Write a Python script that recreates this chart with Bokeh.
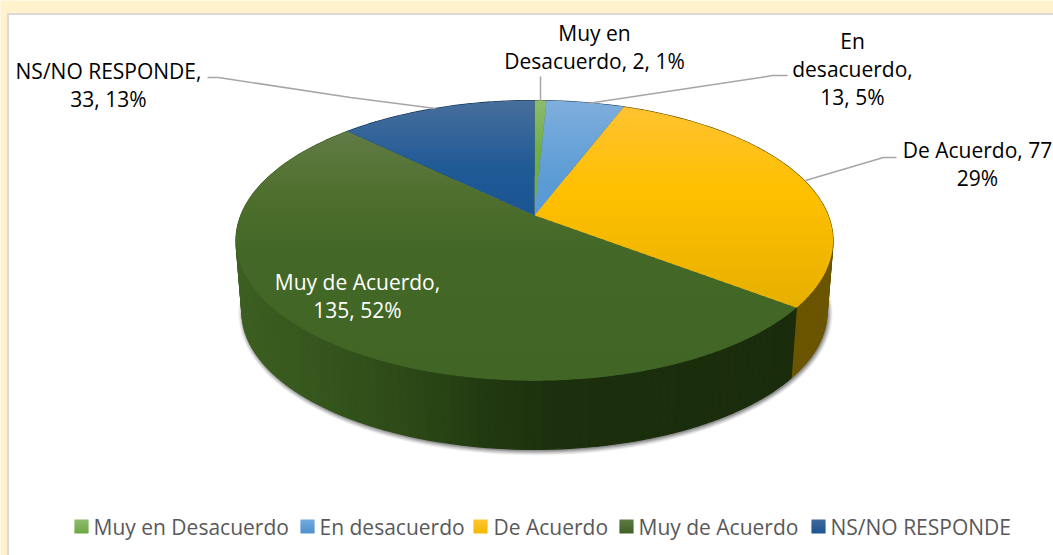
import math
from bokeh.plotting import figure
from bokeh.embed import file_html
from bokeh.resources import INLINE
from bokeh.core.properties import value

# ---- data ----
categories = ["Muy en Desacuerdo", "En desacuerdo", "De Acuerdo", "Muy de Acuerdo", "NS/NO RESPONDE"]
counts = [2, 13, 77, 135, 33]
percents = [1, 5, 29, 52, 13]

# ---- text of the data labels (line breaks as in the picture) ----
label_lines = [
    "Muy en\nDesacuerdo, 2, 1%",
    "En\ndesacuerdo,\n13, 5%",
    "De Acuerdo, 77\n29%",
    "Muy de Acuerdo,\n135, 52%",
    "NS/NO RESPONDE,\n33, 13%",
]

# ---- styles ----
CREAM = "#FFF2CC"
FONT = "Open Sans"
top_stops = [
    [(100, "#8DBB6E"), (150, "#70AD47")],
    [(100, "#7FAEDD"), (180, "#5B9BD5")],
    [(105, "#FFC232"), (190, "#FFC000"), (310, "#E6AF00")],
    [(125, "#637D49"), (190, "#50702F"), (250, "#436827"), (380, "#416524")],
    [(100, "#486E9C"), (170, "#1F5A96"), (215, "#1C5591")],
]
wall_stops = [
    [(500, "#3D5F27"), (560, "#3D5F27")],
    [(500, "#2E4F6B"), (640, "#2E4F6B")],
    [(780, "#6B5500"), (835, "#6B5500")],
    [(236, "#3D5F22"), (350, "#32521B"), (430, "#2A4515"), (490, "#213810"), (560, "#1C300D"), (800, "#1A2C0C")],
    [(300, "#0E2B48"), (540, "#0E2B48")],
]
legend_stops = [
    [(519, "#8DBB6E"), (533, "#6CA843")],
    [(519, "#74A9DC"), (533, "#4E90CE")],
    [(519, "#FFC632"), (533, "#F5B800")],
    [(519, "#5F7A45"), (533, "#3F6124")],
    [(519, "#41699A"), (533, "#1C5591")],
]

# ---- layout (pixels of the window) ----
APEX_X, APEX_Y = 534.0, 215.0
SX, SY, E = 293.7, 135.6, 0.179
DEPTH, BOTTOM_SCALE = 72.0, 0.98
legend_box_x = [74, 300, 473, 619, 811]
legend_text_x = [93, 319, 493, 638, 830]
label_x = [594, 852, 977, 357, 108]
label_y = [46, 68, 163, 295, 84]
label_color = ["#000000", "#000000", "#000000", "#FFFFFF", "#000000"]
leaders = [
    ([540, 540], [76, 101]),
    ([587, 760, 772, 787], [103, 77, 75, 75]),
    ([805, 883, 896], [180, 157, 157]),
    ([207, 218, 350, 435], [77, 77, 97, 108]),
]


def hex2rgb(c):
    return tuple(int(c[i:i + 2], 16) for i in (1, 3, 5))


def ramp(stops, t):
    if t <= stops[0][0]:
        return stops[0][1]
    for (a, ca), (b, cb) in zip(stops, stops[1:]):
        if t <= b:
            f = (t - a) / (b - a)
            ra, rb = hex2rgb(ca), hex2rgb(cb)
            return "#%02X%02X%02X" % tuple(round(x + (y - x) * f) for x, y in zip(ra, rb))
    return stops[-1][1]


def project(phi, dy=0.0, k=1.0):
    d = 1 + E * math.cos(phi)
    return (APEX_X + k * SX * math.sin(phi) / d,
            APEX_Y + dy - k * SY * math.cos(phi) / d)


def clip_half(poly, y, keep_below):
    out = []
    inside = (lambda q: q[1] >= y) if keep_below else (lambda q: q[1] <= y)
    for a, b in zip(poly, poly[1:] + poly[:1]):
        ia, ib = inside(a), inside(b)
        if ia:
            out.append(a)
        if ia != ib:
            f = (y - a[1]) / (b[1] - a[1])
            out.append((a[0] + (b[0] - a[0]) * f, y))
    return out


def bands(poly, stops, step=3):
    """Cut a polygon into horizontal bands so that it shows a vertical gradient."""
    xs, ys, cs = [], [], []
    y0 = min(q[1] for q in poly)
    y1 = max(q[1] for q in poly)
    y = y0
    while y < y1:
        part = clip_half(clip_half(poly, y, True), y + step + 0.8, False)
        if len(part) >= 3:
            xs.append([q[0] for q in part])
            ys.append([q[1] for q in part])
            cs.append(ramp(stops, y + step / 2))
        y += step
    return xs, ys, cs


p = figure(width=1053, height=555, x_range=(0, 1053), y_range=(555, 0),
           output_backend="svg", toolbar_location=None, min_border=0,
           x_axis_location=None, y_axis_location=None, outline_line_color=None)
p.grid.visible = False
p.background_fill_color = CREAM
p.border_fill_color = CREAM

# white chart area
p.quad(left=[7.5], right=[1070], top=[13.5], bottom=[570], fill_color="#FFFFFF",
       line_color="#D9D9D9", line_width=2)

# slice angles from the counts
total = sum(counts)
edges = [0.0]
for c in counts:
    edges.append(edges[-1] + 2 * math.pi * c / total)

# soft shadow beneath the pie
full = [i * math.pi / 180 for i in range(0, 360, 2)]
for grow, alpha in [(4.5, 0.07), (3.6, 0.09), (2.7, 0.12), (1.8, 0.15), (0.9, 0.18), (0.0, 0.22)]:
    pts = [project(a, DEPTH + 1.5, BOTTOM_SCALE) for a in full]
    cx = APEX_X + 1.0
    cy = APEX_Y + DEPTH + 25
    sxs = [cx + (q[0] - APEX_X) * (1 + grow / 290) for q in pts]
    sys = [cy + (q[1] - cy) * (1 + grow / 137) for q in pts]
    p.patch(sxs, sys, fill_color="#404040", fill_alpha=alpha, line_color=None)

# side wall of every slice
wx, wy, wc = [], [], []
for i in range(len(counts)):
    n = max(2, int((edges[i + 1] - edges[i]) / math.radians(1.5)))
    for j in range(n):
        a = edges[i] + (edges[i + 1] - edges[i]) * j / n
        b = edges[i] + (edges[i + 1] - edges[i]) * (j + 1) / n
        t0, t1 = project(a), project(b)
        b0, b1 = project(a, DEPTH, BOTTOM_SCALE), project(b, DEPTH, BOTTOM_SCALE)
        wx.append([t0[0], t1[0], b1[0], b0[0]])
        wy.append([t0[1], t1[1], b1[1], b0[1]])
        wc.append(ramp(wall_stops[i], (t0[0] + t1[0]) / 2))
p.patches(wx, wy, fill_color=wc, line_color=wc, line_width=1.2)

# top face of every slice, with its vertical gradient
for i in range(len(counts)):
    n = max(4, int((edges[i + 1] - edges[i]) / math.radians(0.5)))
    poly = [(APEX_X, APEX_Y)]
    poly += [project(edges[i] + (edges[i + 1] - edges[i]) * j / n) for j in range(n + 1)]
    xs, ys, cs = bands(poly, top_stops[i])
    p.patches(xs, ys, fill_color=cs, line_color=None)

# leader lines
for lx, ly in leaders:
    p.line(lx, ly, line_color="#A6A6A6", line_width=1.5)

# data labels
p.text(x=label_x, y=label_y, text=label_lines, text_color=label_color,
       text_font=value(FONT), text_font_size="21px", text_align="center",
       text_baseline="middle", text_line_height=1.0)

# legend
for i, name in enumerate(categories):
    s = legend_box_x[i]
    square = [(s, 519), (s + 14, 519), (s + 14, 533), (s, 533)]
    xs, ys, cs = bands(square, legend_stops[i], step=2)
    p.patches(xs, ys, fill_color=cs, line_color=None)
    p.text(x=[legend_text_x[i]], y=[526.5], text=[name], text_color="#595959",
           text_font=value(FONT), text_font_size="21px", text_align="left",
           text_baseline="middle")

open("out.html", "w").write(file_html(p, INLINE))
